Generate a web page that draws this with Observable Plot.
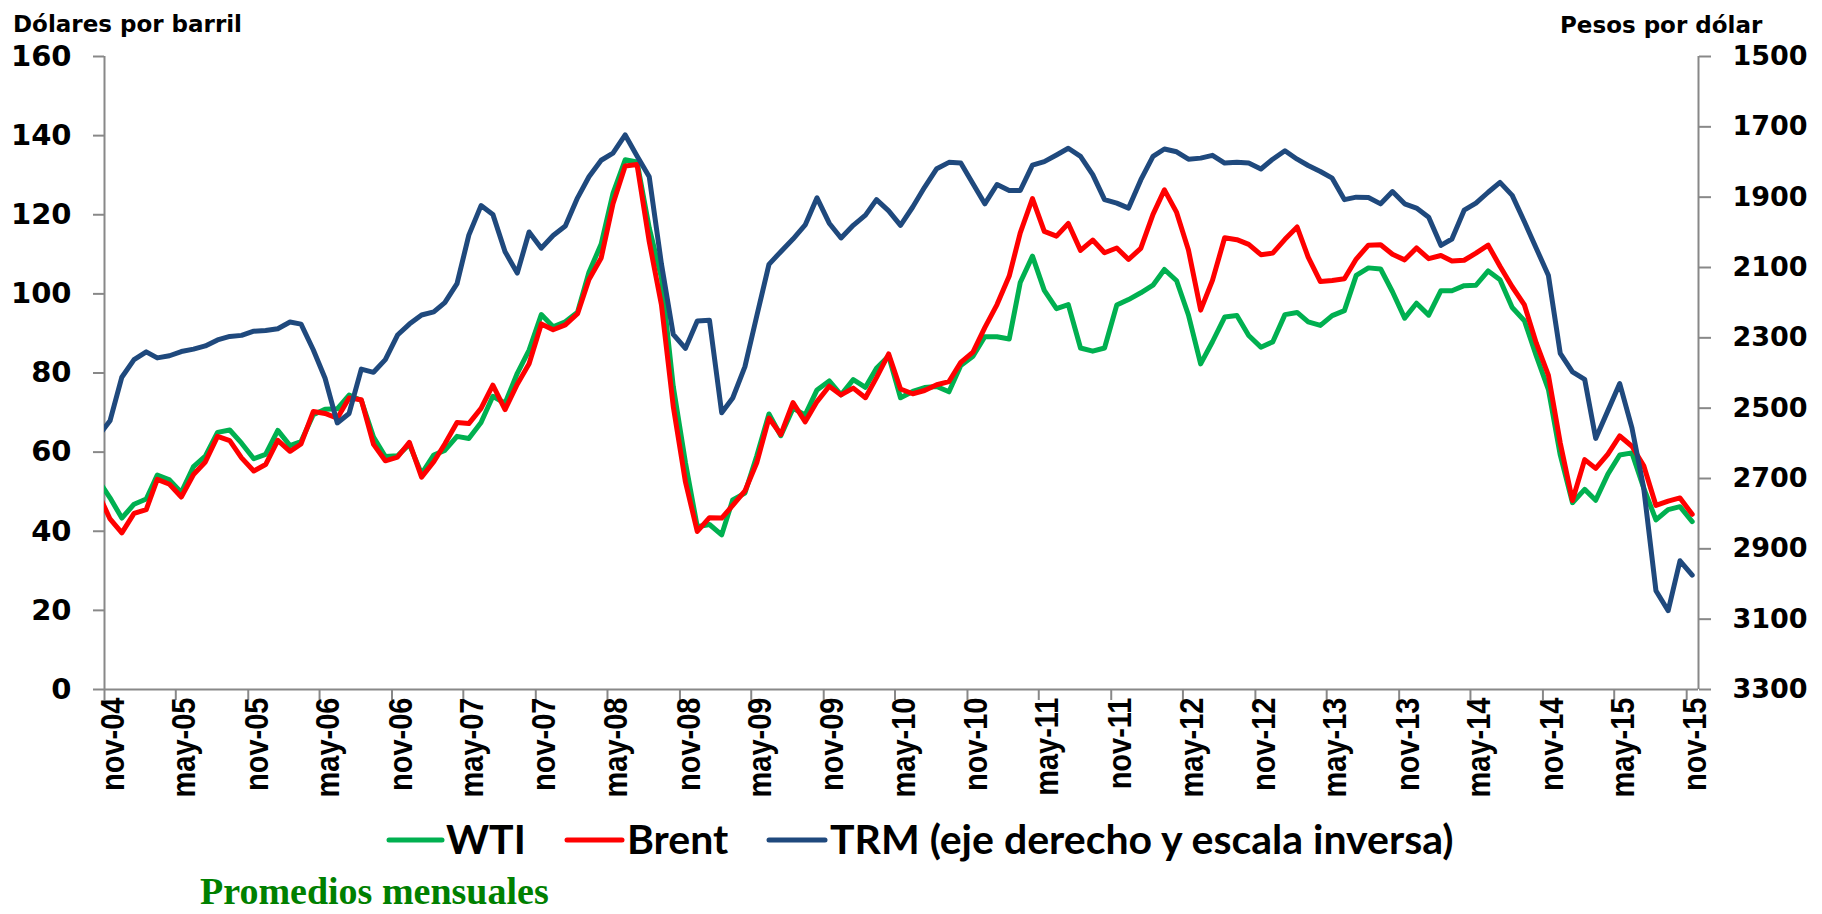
<!DOCTYPE html>
<html>
<head>
<meta charset="utf-8">
<script src="https://cdn.jsdelivr.net/npm/d3@7"></script>
<script src="https://cdn.jsdelivr.net/npm/@observablehq/plot@0.6"></script>
<style>
  html, body { margin: 0; padding: 0; background: #ffffff; }
  #wrap { position: relative; width: 1822px; height: 914px; overflow: hidden; background: #ffffff; }
  #wrap > svg { position: absolute; left: 0; top: 0; }
</style>
</head>
<body>
<div id="wrap"></div>
<script>
// ---- Data (monthly averages, first value = oct-04, last = nov-15) ----
const wti = [
  53.13, 48.46, 43.33,
  46.84, 48.15, 54.19, 52.98, 49.83, 56.35, 59.00, 64.99, 65.59, 62.26, 58.32, 59.41,
  65.49, 61.63, 62.69, 69.44, 70.84, 70.95, 74.41, 73.04, 63.80, 58.89, 59.08, 61.96,
  54.51, 59.28, 60.44, 63.98, 63.46, 67.49, 74.12, 72.36, 79.92, 85.80, 94.77, 91.69,
  92.97, 95.39, 105.45, 112.58, 125.40, 133.88, 133.37, 116.67, 104.11, 76.61, 57.31, 41.12,
  41.71, 39.09, 47.94, 49.65, 59.03, 69.64, 64.15, 71.05, 69.41, 75.72, 77.99, 74.47,
  78.33, 76.39, 81.20, 84.29, 73.74, 75.34, 76.32, 76.60, 75.24, 81.89, 84.25, 89.15,
  89.17, 88.58, 102.86, 109.53, 100.90, 96.26, 97.30, 86.33, 85.52, 86.32, 97.16, 98.56,
  100.27, 102.20, 106.16, 103.32, 94.66, 82.30, 87.90, 94.13, 94.51, 89.49, 86.53, 87.86,
  94.76, 95.31, 92.94, 92.02, 94.51, 95.77, 104.67, 106.57, 106.29, 100.54, 93.86, 97.63,
  94.62, 100.82, 100.80, 102.07, 102.18, 105.79, 103.59, 96.54, 93.21, 84.40, 75.79, 59.29,
  47.22, 50.58, 47.82, 54.45, 59.27, 59.82, 50.90, 42.87, 45.48, 46.22, 42.44
];
const brent = [
  49.78, 43.11, 39.60,
  44.51, 45.48, 53.10, 51.88, 48.65, 54.35, 57.52, 63.98, 62.91, 58.54, 55.24, 56.86,
  62.99, 60.21, 62.06, 70.26, 69.78, 68.56, 73.67, 73.23, 61.96, 57.81, 58.76, 62.47,
  53.68, 57.56, 62.05, 67.49, 67.21, 71.05, 76.93, 70.76, 77.17, 82.34, 92.41, 90.93,
  92.18, 94.99, 103.64, 109.07, 122.80, 132.32, 132.72, 113.24, 97.23, 71.58, 52.45, 39.95,
  43.44, 43.32, 46.54, 50.18, 57.30, 68.61, 64.44, 72.51, 67.65, 72.77, 76.66, 74.46,
  76.17, 73.75, 78.83, 84.82, 75.95, 74.76, 75.58, 77.04, 77.84, 82.67, 85.28, 91.45,
  97.3, 104.5, 115.4, 124.1, 115.8, 114.6, 117.8, 111.0, 113.6, 110.4, 111.6, 108.7,
  111.5, 120.1, 126.3, 120.6, 111.1, 95.9, 103.4, 114.2, 113.7, 112.5, 109.9, 110.3,
  113.8, 116.9, 109.3, 103.1, 103.4, 103.8, 108.8, 112.3, 112.4, 110.0, 108.6, 111.6,
  108.9, 109.7, 108.3, 108.5, 110.3, 112.3, 107.0, 101.8, 97.2, 87.6, 79.4, 62.3,
  47.76, 58.10, 55.89, 59.52, 64.08, 61.48, 56.56, 46.52, 47.62, 48.43, 44.27
];
const trm = [
  2581, 2536, 2412,
  2362, 2340, 2357, 2351, 2339, 2332, 2323, 2306, 2296, 2293, 2281, 2279,
  2274, 2255, 2261, 2334, 2415, 2542, 2515, 2389, 2398, 2362, 2292, 2261,
  2235, 2226, 2200, 2146, 2008, 1924, 1949, 2055, 2116, 1999, 2045, 2009,
  1982, 1902, 1842, 1795, 1775, 1723, 1783, 1842, 2090, 2290, 2330, 2252,
  2250, 2513, 2471, 2382, 2238, 2091, 2055, 2019, 1979, 1902, 1974, 2016,
  1980, 1951, 1907, 1939, 1980, 1928, 1872, 1819, 1801, 1803, 1862, 1919,
  1864, 1881, 1881, 1809, 1799, 1780, 1761, 1784, 1836, 1907, 1917, 1931,
  1851, 1784, 1763, 1771, 1792, 1789, 1781, 1803, 1801, 1803, 1820, 1792,
  1768, 1792, 1810, 1827, 1846, 1907, 1900, 1901, 1919, 1884, 1919, 1931,
  1957, 2037, 2019, 1937, 1917, 1886, 1858, 1895, 1970, 2045, 2123, 2344,
  2397, 2418, 2586, 2507, 2430, 2556, 2728, 3019, 3076, 2934, 2975
];
const seriesNames = ["WTI", "Brent", "TRM (eje derecho y escala inversa)"];
const seriesColors = ["#00B050", "#FF0000", "#1F497D"];
const leftTicks = [0, 20, 40, 60, 80, 100, 120, 140, 160];
const rightTicks = [1500, 1700, 1900, 2100, 2300, 2500, 2700, 2900, 3100, 3300];
const monthNames = ["ene","feb","mar","abr","may","jun","jul","ago","sep","oct","nov","dic"];
const leftTitle = "Dólares por barril";
const rightTitle = "Pesos por dólar";
const footnote = "Promedios mensuales";

// ---- Build ----
const firstMonth = new Date(Date.UTC(2004, 9, 1));
const months = d3.utcMonth.range(firstMonth, new Date(Date.UTC(2015, 11, 1)));
const dates = months.map(d => d3.utcDay.offset(d, 14));
const xStart = new Date(Date.UTC(2004, 10, 1));
const xEnd = new Date(Date.UTC(2015, 11, 1));
const tickDates = d3.utcMonth.range(xStart, new Date(Date.UTC(2015, 10, 2)), 6);
const fmtTick = d => monthNames[d.getUTCMonth()] + "-" + d3.utcFormat("%y")(d);

// TRM on an inverted secondary axis, mapped into the left scale
const trmMin = 1500, trmMax = 3300;
const toLeft = v => (trmMax - v) * 160 / (trmMax - trmMin);
const fromLeft = y => String(Math.round(trmMax - y * (trmMax - trmMin) / 160));

const rows = (vals, transform) => vals.map((v, i) => ({date: dates[i], value: transform ? transform(v) : v}));
const wtiRows = rows(wti);
const brentRows = rows(brent);
const trmRows = rows(trm, toLeft);

const grey = "#888888";
const chart = Plot.plot({
  width: 1822,
  height: 914,
  marginLeft: 104,
  marginRight: 124,
  marginTop: 56,
  marginBottom: 225,
  x: {type: "utc", domain: [xStart, xEnd]},
  y: {domain: [0, 160]},
  style: {fontFamily: "DejaVu Sans", background: "transparent", overflow: "visible", color: "black"},
  marks: [
    Plot.ruleX([xStart, xEnd], {stroke: grey, strokeWidth: 2}),
    Plot.ruleY([0], {stroke: grey, strokeWidth: 2}),
    Plot.axisY({anchor: "left", ticks: leftTicks, tickSize: 11, tickPadding: 22, label: null,
      stroke: grey, strokeWidth: 2, fill: "black", fontSize: 29, fontWeight: "bold", fontFamily: "DejaVu Sans"}),
    Plot.axisY({anchor: "right", ticks: rightTicks.map(toLeft), tickFormat: fromLeft, tickSize: 12, tickPadding: 22, label: null,
      stroke: grey, strokeWidth: 2, fill: "black", fontSize: 27, fontWeight: "bold", fontFamily: "DejaVu Sans"}),
    Plot.axisX({ticks: tickDates, tickSize: 11, tickFormat: () => "", label: null, stroke: grey, strokeWidth: 2}),
    Plot.text(tickDates, {x: d => d, frameAnchor: "bottom", text: fmtTick, rotate: -90, textAnchor: "end",
      lineAnchor: "middle", dx: 9, dy: 8, fontSize: 29, fontWeight: "bold", fontFamily: "Liberation Sans", fill: "black",
      className: "xlab"}),
    Plot.line(wtiRows, {x: "date", y: "value", stroke: seriesColors[0], strokeWidth: 5, strokeLinejoin: "round", strokeLinecap: "round", clip: true}),
    Plot.line(brentRows, {x: "date", y: "value", stroke: seriesColors[1], strokeWidth: 5, strokeLinejoin: "round", strokeLinecap: "round", clip: true}),
    Plot.line(trmRows, {x: "date", y: "value", stroke: seriesColors[2], strokeWidth: 5, strokeLinejoin: "round", strokeLinecap: "round", clip: true})
  ]
});
// widen the rotated month labels slightly (the reference chart is horizontally stretched)
chart.querySelectorAll("g.xlab text").forEach(t => {
  const tr = t.getAttribute("transform") || "";
  t.setAttribute("transform", tr + " scale(1,1.15)");
});
const wrap = document.getElementById("wrap");
wrap.appendChild(chart);

// ---- Titles, legend and note (overlay) ----
const ns = "http://www.w3.org/2000/svg";
const ov = document.createElementNS(ns, "svg");
ov.setAttribute("width", 1822);
ov.setAttribute("height", 914);
ov.style.position = "absolute";
ov.style.left = "0px";
ov.style.top = "0px";
ov.style.pointerEvents = "none";
function addText(str, x, y, opts) {
  const t = document.createElementNS(ns, "text");
  t.setAttribute("x", x);
  t.setAttribute("y", y);
  t.setAttribute("font-family", opts.family);
  t.setAttribute("font-size", opts.size);
  t.setAttribute("font-weight", "bold");
  t.setAttribute("fill", opts.fill || "black");
  if (opts.anchor) t.setAttribute("text-anchor", opts.anchor);
  t.textContent = str;
  ov.appendChild(t);
  return t;
}
function addSwatch(x1, x2, y, color) {
  const l = document.createElementNS(ns, "line");
  l.setAttribute("x1", x1); l.setAttribute("x2", x2);
  l.setAttribute("y1", y); l.setAttribute("y2", y);
  l.setAttribute("stroke", color);
  l.setAttribute("stroke-width", 5);
  l.setAttribute("stroke-linecap", "round");
  ov.appendChild(l);
}
addText(leftTitle, 13, 32, {family: "DejaVu Sans", size: 23});
addText(rightTitle, 1560, 33, {family: "DejaVu Sans", size: 23});
const legendX = [[389, 442, 446], [567, 622, 627], [769, 825, 830]];
seriesNames.forEach((name, i) => {
  addSwatch(legendX[i][0], legendX[i][1], 840, seriesColors[i]);
  addText(name, legendX[i][2], 854, {family: "Lato", size: 41});
});
addText(footnote, 200, 904, {family: "Liberation Serif", size: 38, fill: "#008000"});
wrap.appendChild(ov);
</script>
</body>
</html>
